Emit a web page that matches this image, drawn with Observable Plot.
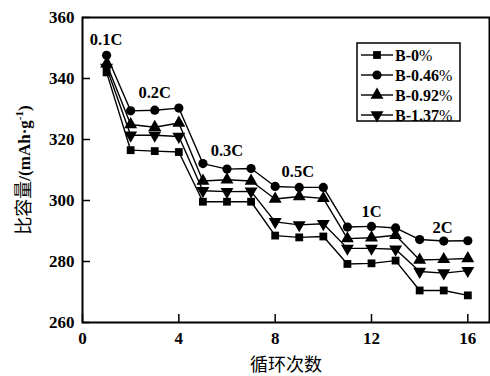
<!DOCTYPE html>
<html><head><meta charset="utf-8">
<script src="https://cdn.jsdelivr.net/npm/d3@7"></script>
<script src="https://cdn.jsdelivr.net/npm/@observablehq/plot@0.6"></script>
<style>
body{margin:0;background:#fff;color:#000;}
#chart svg{font-family:"Liberation Serif",serif;color:#000;}
</style>
</head><body><div id="chart"></div>
<script>
const cycles = [1,2,3,4,5,6,7,8,9,10,11,12,13,14,15,16];
const seriesNames = ["B-0%","B-0.46%","B-0.92%","B-1.37%"];
const b0   = [342.0,316.5,316.2,315.9,299.6,299.6,299.6,288.5,287.9,288.2,279.2,279.4,280.3,270.5,270.5,268.9];
const b046 = [347.6,329.4,329.6,330.3,312.1,310.3,310.5,304.6,304.3,304.3,291.3,291.5,291.0,287.2,286.7,286.8];
const b092 = [344.8,324.9,324.0,325.4,306.4,306.8,306.4,300.5,301.3,300.7,287.5,287.8,288.6,280.5,280.7,281.0];
const b137 = [343.6,321.4,321.4,321.0,303.2,302.9,303.0,293.0,292.0,292.4,284.3,284.3,284.0,276.7,276.2,277.0];
const xTicks = [0,4,8,12,16];
const yTicks = [260,280,300,320,340,360];
const rateLabels = ["0.1C","0.2C","0.3C","0.5C","1C","2C"];
const rateX = [0.98,3.0,6.0,8.94,12.0,14.95];
const rateY = [352.8,335.5,316.4,309.3,296.4,291.0];

const seriesValues = [b0,b046,b092,b137];
const symbols = [
  {symbol:"square", rotate:0, r:4.4},
  {symbol:"circle", rotate:0, r:4.6},
  {symbol:"triangle", rotate:0, r:4.8},
  {symbol:"triangle", rotate:180, r:4.8}
];
const rows = [];
seriesNames.forEach((s,i)=>cycles.forEach((c,j)=>rows.push({series:s, cycle:c, cap:seriesValues[i][j]})));
const labels = rateLabels.map((t,i)=>({t, x:rateX[i], y:rateY[i]}));

const marks = [
  Plot.frame({stroke:"#000", strokeWidth:2}),
  Plot.axisX({ticks:xTicks, tickSize:-8, tickPadding:17, tickFormat:d=>d, fontSize:17, fontWeight:"bold", fill:"#000", stroke:"#000", strokeWidth:1.5, label:null}),
  Plot.axisY({ticks:yTicks, tickSize:-8, tickPadding:16, tickFormat:d=>d, fontSize:17, fontWeight:"bold", fill:"#000", stroke:"#000", strokeWidth:1.5, label:null}),
];
seriesNames.forEach((s,i)=>{
  const d = rows.filter(r=>r.series===s);
  marks.push(Plot.line(d,{x:"cycle", y:"cap", stroke:"#000", strokeWidth:1.4}));
  marks.push(Plot.dot(d,{x:"cycle", y:"cap", symbol:symbols[i].symbol, rotate:symbols[i].rotate, r:symbols[i].r, fill:"#000", stroke:"none"}));
});
marks.push(Plot.text(labels,{x:"x", y:"y", text:"t", fontSize:16.5, fontWeight:"bold", fill:"#000"}));

const chart = Plot.plot({
  width:490, height:376,
  marginLeft:82, marginRight:1, marginTop:17, marginBottom:54,
  x:{domain:[0,16.9]},
  y:{domain:[260,360]},
  marks
});
document.getElementById("chart").appendChild(chart);

const svg = d3.select(chart);
// axis titles
svg.append("text").attr("x",286).attr("y",365).attr("dy","0.35em").attr("text-anchor","middle").attr("fill","#000")
  .attr("font-family","'Noto Sans CJK SC',sans-serif").attr("font-size",18).text("循环次数");
const yt = svg.append("text").attr("transform","translate(30,170) rotate(-90)").attr("text-anchor","middle").attr("fill","#000");
yt.append("tspan").attr("font-family","'Noto Sans CJK SC',sans-serif").attr("font-size",18).text("比容量");
yt.append("tspan").attr("font-family","'Liberation Serif',serif").attr("font-weight","bold").attr("font-size",17).text("/(mAh·g");
yt.append("tspan").attr("font-family","'Liberation Serif',serif").attr("font-weight","bold").attr("font-size",11).attr("dy",-7).text("-1");
yt.append("tspan").attr("font-family","'Liberation Serif',serif").attr("font-weight","bold").attr("font-size",17).attr("dy",7).text(")");

// legend
const lg = svg.append("g");
lg.append("rect").attr("x",357).attr("y",43).attr("width",103).attr("height",78)
  .attr("fill","#fff").attr("stroke","#000").attr("stroke-width",1.5);
const symGen = [d3.symbolSquare,d3.symbolCircle,d3.symbolTriangle,d3.symbolTriangle];
seriesNames.forEach((s,i)=>{
  const yy = 55 + i*20;
  lg.append("line").attr("x1",361).attr("x2",393).attr("y1",yy).attr("y2",yy).attr("stroke","#000").attr("stroke-width",1.4);
  const r = symbols[i].r;
  lg.append("path").attr("d",d3.symbol(symGen[i], Math.PI*r*r)())
    .attr("transform",`translate(377,${yy}) rotate(${symbols[i].rotate})`).attr("fill","#000");
  const t = lg.append("text").attr("x",395).attr("y",yy).attr("dy","0.35em").attr("font-size",16)
    .attr("text-anchor","start").attr("fill","#000");
  t.append("tspan").attr("font-weight","bold").text(s.replace("%",""));
  t.append("tspan").attr("font-weight","normal").text("%");
});
</script>
</body></html>
